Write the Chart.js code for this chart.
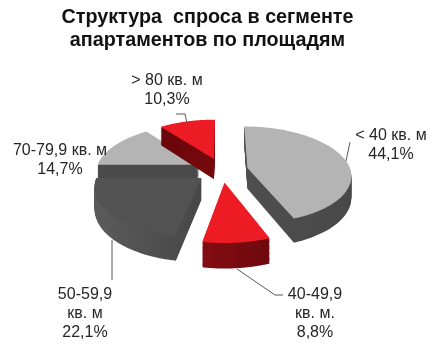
<!DOCTYPE html>
<html>
<head>
<meta charset="utf-8">
<style>
body{margin:0;background:#fff;}
canvas{display:block;}
</style>
</head>
<body>
<canvas id="pie" width="434" height="362"></canvas>
<script src="https://cdn.jsdelivr.net/npm/chart.js@4"></script>
<script>
const titleLines = ["Структура  спроса в сегменте", "апартаментов по площадям"];
const categories = ["< 40 кв. м", "40-49,9 кв. м.", "50-59,9 кв. м", "70-79,9 кв. м", "> 80 кв. м"];
const shares = [44.1, 8.8, 22.1, 14.7, 10.3];
const shareLabels = ["44,1%", "8,8%", "22,1%", "14,7%", "10,3%"];
const topColors = ["#b4b4b4", "#ed1c24", "#525252", "#b4b4b4", "#ed1c24"];
const sideColors = [["#555555", "#484848"], ["#9c1118", "#5c0509"], ["#5a5a5a", "#333333"], ["#4a4a4a", "#4a4a4a"], ["#5e0408", "#8e0d13"]];

// how the flat pie is tipped over, shiftX moves it off the title centre
const tilt = 0.465, persp = 0.142, depth = 21, shiftX = 14.5;
const drawOrder = [3, 4, 0, 2, 1];

// text blocks and leader lines
const labelBlocks = [
    {x: 391, y: 136, lines: ["< 40 кв. м", shareLabels[0]]},
    {x: 315, y: 295, lines: ["40-49,9", "кв. м.", shareLabels[1]]},
    {x: 85, y: 295, lines: ["50-59,9", "кв. м", shareLabels[2]]},
    {x: 60, y: 151, lines: ["70-79,9 кв. м", shareLabels[3]]},
    {x: 167, y: 81, lines: ["> 80 кв. м", shareLabels[4]]}
];
const leaders = [
    [[350, 142], [346, 161]],
    [[237, 269], [275, 295], [283, 295]],
    [[112, 240], [112, 280]],
    [[176, 114], [185, 114], [187, 123]]
];

function project(arc, px, py, drop) {
    let s = 1 / (1 - persp * py / arc.outerRadius);
    return [arc.x + shiftX + px * s, arc.y + tilt * py * s + drop * s];
}

function slicePath(ctx, arc, drop) {
    let off = arc.options.offset;
    let mid = (arc.startAngle + arc.endAngle) / 2;
    let ox = Math.cos(mid) * off;
    let oy = Math.sin(mid) * off;
    ctx.beginPath();
    let p = project(arc, ox, oy, drop);
    ctx.moveTo(p[0], p[1]);
    for (let i = 0; i <= 60; i++) {
        let a = arc.startAngle + (arc.endAngle - arc.startAngle) * i / 60;
        p = project(arc, ox + Math.cos(a) * arc.outerRadius, oy + Math.sin(a) * arc.outerRadius, drop);
        ctx.lineTo(p[0], p[1]);
    }
    ctx.closePath();
}

const tippedPie = {
    id: "tippedPie",
    beforeDatasetDraw(chart) {
        const ctx = chart.ctx;
        const arcs = chart.getDatasetMeta(0).data;
        drawOrder.forEach(function (i) {
            let arc = arcs[i];
            let mid = (arc.startAngle + arc.endAngle) / 2;
            let ox = Math.cos(mid) * arc.options.offset + shiftX;
            let grad = ctx.createLinearGradient(arc.x + ox - arc.outerRadius, 0, arc.x + ox + arc.outerRadius, 0);
            grad.addColorStop(0, sideColors[i][0]);
            grad.addColorStop(1, sideColors[i][1]);
            ctx.fillStyle = grad;
            for (let d = depth; d > 0; d--) {
                slicePath(ctx, arc, d);
                ctx.fill();
            }
            slicePath(ctx, arc, 0);
            ctx.fillStyle = arc.options.backgroundColor;
            ctx.fill();
        });
        return false;
    },
    afterDraw(chart) {
        const ctx = chart.ctx;
        ctx.save();
        ctx.strokeStyle = "#595959";
        ctx.lineWidth = 1;
        leaders.forEach(function (pts) {
            ctx.beginPath();
            pts.forEach(function (p, i) {
                if (i == 0) ctx.moveTo(p[0], p[1]);
                else ctx.lineTo(p[0], p[1]);
            });
            ctx.stroke();
        });
        ctx.fillStyle = "#262626";
        ctx.font = "16px 'Liberation Sans'";
        ctx.textAlign = "center";
        ctx.textBaseline = "middle";
        labelBlocks.forEach(function (b) {
            b.lines.forEach(function (t, i) {
                ctx.fillText(t, b.x, b.y + i * 19);
            });
        });
        ctx.restore();
    }
};

new Chart(document.getElementById("pie"), {
    type: "pie",
    data: {
        labels: categories,
        datasets: [{
            data: shares,
            backgroundColor: topColors,
            borderWidth: 0,
            offset: 26,
            radius: 103
        }]
    },
    options: {
        responsive: false,
        animation: false,
        layout: {padding: {right: 19, bottom: 80}},
        plugins: {
            legend: {display: false},
            title: {
                display: true,
                text: titleLines,
                color: "#111111",
                font: {family: "'Liberation Sans'", size: 19.75, weight: "bold", lineHeight: 1.17},
                padding: {top: 6, bottom: 6}
            }
        }
    },
    plugins: [tippedPie]
});
</script>
</body>
</html>
